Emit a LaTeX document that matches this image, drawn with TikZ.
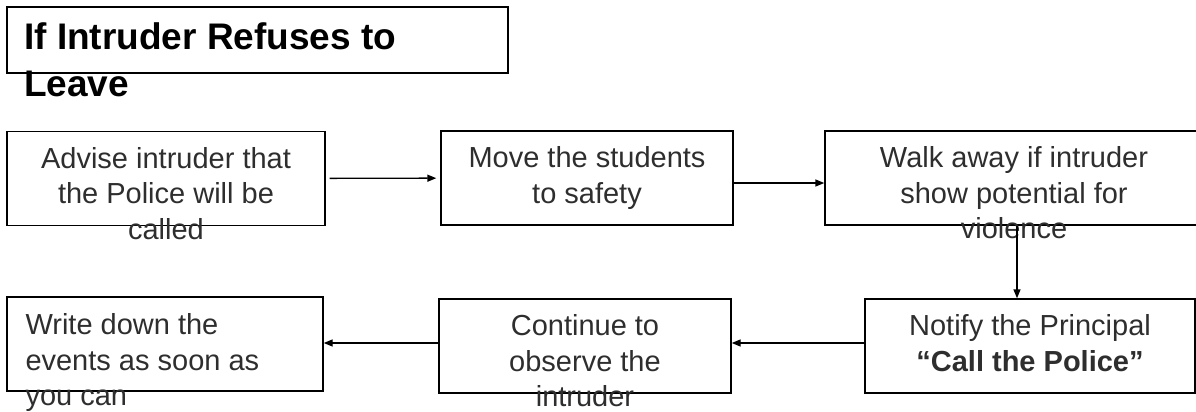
\documentclass[tikz,border=0pt]{standalone}
\usepackage{fontspec}
\setmainfont{Liberation Sans}
\usetikzlibrary{arrows.meta}
\begin{document}
\begin{tikzpicture}[x=1pt,y=-1pt,
  box/.style={draw,line width=1.4pt,inner sep=0pt,minimum height=94pt},
  txt/.style={inner sep=0pt,anchor=north,align=center,text=black!82,font=\fontsize{29}{35.5}\selectfont},
  arr/.style={line width=1.4pt,-{Triangle[length=9pt,width=7pt]}}]
  \path[use as bounding box,clip] (0,0) rectangle (1196,412);
  \node[box,minimum width=501pt,minimum height=66pt] (hbox) at (257.5,40) {};
  \node[inner sep=0pt,anchor=north west,align=left,font=\fontsize{37}{47}\selectfont\bfseries] (head) at (24,22) {If Intruder Refuses to\\Leave};
  \node[box,minimum width=318pt] (b1) at (166,178.5) {};
  \node[box,minimum width=292pt] (b2) at (587,178) {};
  \node[box,minimum width=378pt] (b3) at (1014,178) {};
  \node[box,minimum width=330pt] (b4) at (1030,346) {};
  \node[box,minimum width=292pt] (b5) at (585,346) {};
  \node[box,minimum width=316pt] (b6) at (165,344) {};
  \node[txt] (t1) at ([yshift=-16pt]b1.north) {Advise intruder that\\the Police will be\\called};
  \node[txt] (t2) at ([yshift=-16pt]b2.north) {Move the students\\to safety};
  \node[txt] (t3) at ([yshift=-16pt]b3.north) {Walk away if intruder\\show potential for\\violence};
  \node[txt] (t4) at ([yshift=-16pt]b4.north) {Notify the Principal\\\textbf{“Call the Police”}};
  \node[txt] (t5) at ([yshift=-16pt]b5.north) {Continue to\\observe the\\intruder};
  \node[txt,anchor=north west,align=left] (t6) at ([xshift=19pt,yshift=-17pt]b6.north west) {Write down the\\events as soon as\\you can};
  \draw[arr,shorten <=4pt,shorten >=4pt] (b1) -- (b2);
  \draw[arr] ([yshift=-5pt]b2.east) -- ([yshift=-5pt]b3.west);
  \draw[arr] ([xshift=3pt]b3.south) -- ([xshift=3pt]b3.south |- b4.north);
  \draw[arr] ([yshift=3pt]b4.west) -- ([yshift=3pt]b4.west -| b5.east);
  \draw[arr] ([yshift=3pt]b5.west) -- ([yshift=3pt]b5.west -| b6.east);
\end{tikzpicture}
\end{document}
